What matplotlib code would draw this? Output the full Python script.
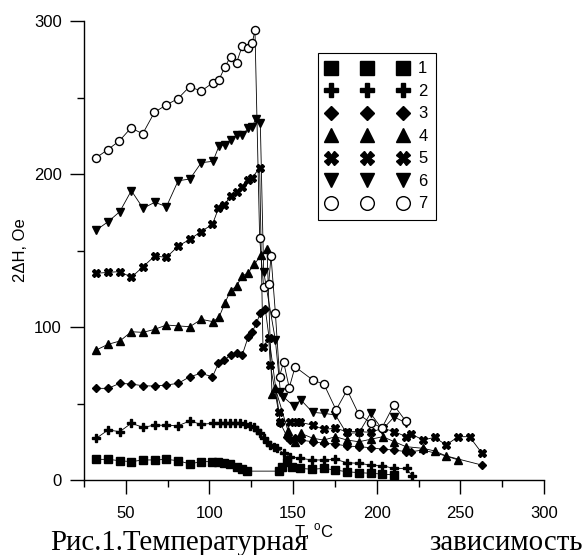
import matplotlib
matplotlib.use("Agg")
import matplotlib.pyplot as plt
from matplotlib.ticker import MultipleLocator

plt.rcParams['font.family'] = ['Liberation Sans', 'DejaVu Sans']
plt.rcParams['font.size'] = 12

# series 1 (squares)
t1 = [32.4, 39.4, 46.4, 53.3, 60.3, 67.3, 74.3, 81.3, 88.3, 94.9, 101.8, 105.4, 108.8, 112.4,
      116.4, 119.4, 122.4, 141.3, 143.3, 146.4, 149.4, 154.3, 161.5, 168.3, 175.3, 182.3, 189.3,
      196.3, 203.2, 210.2]
v1 = [13.5, 13.5, 12.6, 12.0, 13.1, 13.1, 13.5, 12.6, 10.5, 12.0, 12.0, 12.0, 11.3, 10.5,
      8.7, 7.0, 5.8, 5.8, 8.7, 12.0, 8.7, 7.6, 7.0, 7.6, 6.5, 5.4, 4.8, 4.4, 3.9, 3.3]

# series 2 (plus)
t2 = [32.4, 39.4, 46.4, 53.3, 60.3, 67.3, 74.3, 81.3, 88.3, 94.9, 102.4, 106.4, 109.4, 112.4,
      115.4, 118.4, 121.4, 124.0, 126.4, 128.4, 130.4, 132.4, 134.4, 136.4, 138.4, 140.4, 144.3,
      148.4, 154.3, 161.5, 168.3, 175.3, 182.3, 189.3, 196.3, 203.2, 210.2, 217.8, 221.2]
v2 = [27.3, 32.7, 31.6, 37.1, 34.4, 35.9, 35.7, 35.5, 38.6, 36.4, 37.1, 37.1, 37.5, 37.1,
      37.1, 37.1, 36.4, 35.5, 34.8, 32.7, 30.5, 27.3, 25.0, 22.9, 21.8, 20.7, 17.5,
      15.2, 14.2, 13.1, 13.1, 13.5, 11.3, 10.9, 9.8, 9.4, 7.6, 7.6, 2.6]

# series 3 (diamonds)
t3 = [32.4, 39.4, 46.4, 53.3, 60.3, 67.3, 74.3, 81.3, 88.3, 94.9, 101.8, 105.4, 108.8, 112.8,
      116.2, 119.6, 123.2, 125.6, 128.0, 130.4, 133.4, 142.4, 146.4, 148.4, 151.2, 154.7, 161.7,
      168.3, 175.3, 182.3, 189.4, 196.3, 203.6, 210.6, 217.4, 220.6, 227.7, 262.7]
v3 = [59.9, 59.9, 63.2, 62.7, 61.6, 61.4, 62.1, 63.2, 67.5, 69.7, 67.5, 76.2, 78.4, 81.7,
      82.8, 81.7, 93.7, 96.9, 102.4, 108.9, 111.6, 37.1, 28.3, 26.1, 27.3, 26.1, 25.0,
      24.0, 23.5, 22.2, 21.8, 21.1, 20.1, 19.6, 18.5, 18.5, 19.6, 9.8]

# series 4 (triangles up)
t4 = [32.4, 39.4, 46.4, 53.3, 60.3, 67.3, 74.3, 81.3, 88.3, 95.1, 102.1, 105.7, 109.3, 112.6,
      116.2, 119.6, 123.2, 126.8, 131.0, 134.4, 137.4, 139.4, 147.0, 151.2, 154.7, 161.7, 168.3,
      175.3, 182.3, 189.4, 196.3, 203.6, 210.6, 217.4, 227.7, 234.6, 241.5, 248.7]
v4 = [85.0, 88.7, 90.8, 96.9, 96.5, 98.5, 101.3, 100.7, 100.2, 105.0, 103.5, 106.3, 115.9, 123.7,
      126.8, 133.3, 135.5, 141.0, 147.1, 151.0, 56.2, 59.9, 32.0, 25.0, 30.5, 27.3, 26.1,
      28.3, 26.1, 25.0, 26.6, 28.3, 25.0, 21.8, 20.7, 19.0, 15.7, 13.1]

# series 5 (crosses)
t5 = [32.4, 39.4, 46.4, 53.3, 60.3, 67.3, 74.3, 81.3, 88.3, 94.9, 101.8, 105.4, 108.8, 112.8,
      116.2, 119.6, 123.2, 125.6, 130.0, 132.0, 135.4, 136.4, 141.3, 142.4, 147.9, 152.4, 154.3,
      161.7, 168.3, 175.3, 182.3, 189.4, 196.3, 203.6, 210.6, 217.4, 220.6, 227.7, 234.6, 241.5,
      248.7, 255.5, 262.7]
v5 = [135.1, 135.7, 136.2, 132.5, 139.4, 146.4, 145.5, 152.9, 157.3, 162.3, 167.1, 177.6, 179.7, 185.8,
      188.0, 191.2, 196.1, 197.6, 204.1, 86.7, 92.6, 75.2, 44.6, 38.1, 38.1, 38.1, 37.7,
      35.9, 33.1, 33.8, 31.6, 31.6, 31.2, 33.8, 31.6, 28.4, 30.1, 26.1, 27.9, 22.9,
      28.3, 28.3, 17.8]

# series 6 (triangles down)
t6 = [32.4, 39.4, 46.4, 53.3, 60.3, 67.3, 74.3, 81.3, 88.3, 95.1, 102.1, 105.7, 109.3, 112.6,
      116.2, 119.6, 123.2, 125.6, 127.6, 130.4, 132.4, 139.4, 142.4, 144.0, 150.3, 154.7, 161.7,
      168.3, 175.3, 182.0, 189.4, 196.3, 203.4, 210.4, 217.6]
v6 = [163.4, 168.8, 175.4, 189.1, 177.6, 181.5, 178.7, 195.6, 196.7, 207.4, 208.3, 218.3, 219.2, 222.4,
      225.5, 225.5, 229.9, 230.5, 236.2, 233.5, 136.2, 91.5, 57.7, 54.5, 48.4, 52.3, 44.2,
      43.6, 42.5, 30.5, 30.9, 43.6, 33.0, 41.2, 37.3]

# series 7 (open circles)
t7 = [32.2, 39.2, 46.1, 53.1, 60.1, 67.1, 74.1, 81.1, 88.1, 95.1, 102.1, 105.7, 109.3, 112.6,
      116.2, 119.6, 123.2, 125.6, 127.2, 130.0, 132.4, 135.4, 136.8, 139.4, 141.9, 144.3, 147.7,
      151.2, 161.7, 168.5, 175.7, 182.3, 189.3, 196.3, 203.2, 210.2, 217.4]
v7 = [210.6, 215.9, 221.6, 230.1, 226.3, 240.3, 245.1, 249.2, 257.1, 254.2, 259.7, 261.6, 270.1, 276.7,
      272.7, 283.7, 282.6, 285.6, 294.1, 158.4, 125.9, 128.1, 146.4, 109.3, 67.5, 77.3, 60.3,
      74.0, 65.4, 62.5, 45.8, 58.8, 42.9, 37.5, 34.2, 49.0, 38.4]

labels = ['1', '2', '3', '4', '5', '6', '7']

fig = plt.figure(figsize=(5.87, 5.55), dpi=100)
ax = fig.add_axes([84 / 587, 75 / 555, 460 / 587, 459 / 555])

styles = [
    dict(marker='s', ms=5.6, mfc='black'),
    dict(marker='P', ms=5.6, mfc='black'),
    dict(marker='D', ms=4.2, mfc='black'),
    dict(marker='^', ms=6.0, mfc='black'),
    dict(marker='X', ms=5.8, mfc='black'),
    dict(marker='v', ms=6.0, mfc='black'),
    dict(marker='o', ms=5.8, mfc='white', mew=1.0),
]
series = [(t1, v1), (t2, v2), (t3, v3), (t4, v4), (t5, v5), (t6, v6), (t7, v7)]

handles = []
for (t, v), st, lab in zip(series, styles, labels):
    ax.plot(t, v, color='black', lw=0.6, zorder=2)
    h, = ax.plot(t, v, ls='none', mec='black', color='black', label=lab, zorder=3, **st)
    handles.append(h)

ax.set_xlim(25, 300)
ax.set_ylim(0, 300)
ax.xaxis.set_major_locator(MultipleLocator(50))
ax.xaxis.set_minor_locator(MultipleLocator(25))
ax.yaxis.set_major_locator(MultipleLocator(100))
ax.yaxis.set_minor_locator(MultipleLocator(50))
ax.tick_params(which='major', direction='out', length=10, width=1, pad=9, labelsize=12)
ax.tick_params(which='minor', direction='out', length=5, width=1)
ax.tick_params(axis='y', which='major', pad=6)
for side in ('top', 'right'):
    ax.spines[side].set_visible(False)
for side in ('left', 'bottom'):
    ax.spines[side].set_linewidth(1)

ax.set_xlabel(r'T, $^{\mathregular{o}}$C', fontsize=12, labelpad=0)
ax.set_ylabel('2ΔH, Oe', fontsize=12, labelpad=4)

leg = ax.legend(handles=handles, loc='upper left', bbox_to_anchor=(0.509, 0.930),
                numpoints=3, handlelength=4.9, handletextpad=0.6, labelspacing=0.45,
                borderpad=0.5, borderaxespad=0, markerscale=1.7, fancybox=False,
                framealpha=1, edgecolor='black', fontsize=12)
leg.get_frame().set_linewidth(0.8)

fig.text(50 / 587, 5 / 555, 'Рис.1.Температурная', family='Liberation Serif', fontsize=20.8,
         ha='left', va='baseline')
fig.text(429 / 587, 5 / 555, 'зависимость', family='Liberation Serif', fontsize=20.8,
         ha='left', va='baseline')

fig.savefig('out.png', dpi=100)
